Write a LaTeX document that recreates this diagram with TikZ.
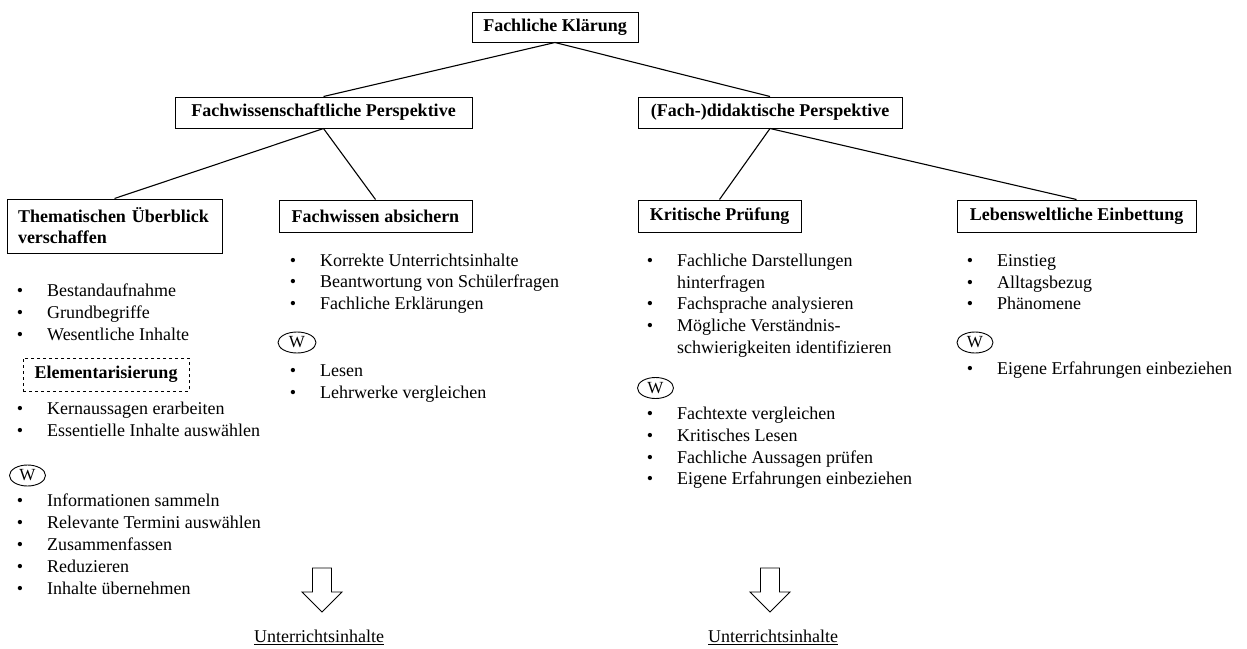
\documentclass[tikz,border=0pt]{standalone}
\usepackage{fontspec}
\setmainfont{Liberation Serif}
\usetikzlibrary{shapes.geometric}

% bulleted line: name, bullet x, line centre y, text
\newcommand\itm[4]{%
  \node[bul] (#1b) at (#2,#3+6) {•};
  \node[itx] (#1) at (#2+27,#3+6) {#4};}
% continuation line of a bulleted item
\newcommand\cnt[4]{%
  \node[itx] (#1) at (#2+27,#3+6) {#4};}
% hollow downward block arrow centred at x, from top y to tip y
\newcommand\blockdown[3]{%
  \draw[line width=0.9pt, line join=miter] (#1-9.5,#2) -- (#1+9.5,#2) -- (#1+9.5,#3-20)
    -- (#1+20,#3-20) -- (#1,#3) -- (#1-20,#3-20) -- (#1-9.5,#3-20) -- cycle;}

\begin{document}
\begin{tikzpicture}[x=1pt, y=-1pt,
  font=\fontsize{18}{22}\selectfont,
  box/.style={draw, line width=1pt, inner sep=0pt, align=center,
    font=\fontsize{18}{21}\selectfont\bfseries},
  wmark/.style={draw, ellipse, line width=0.9pt, inner sep=0pt,
    minimum width=36pt, minimum height=21pt, font=\fontsize{17}{20}\selectfont},
  bul/.style={anchor=base, inner sep=0pt},
  itx/.style={anchor=base west, inner sep=0pt},
  link/.style={line width=1.1pt}]
\useasboundingbox[fill=white] (0,0) rectangle (1247,648);

% hierarchy
\node[box, minimum width=166pt, minimum height=30pt] (root) at (555,27) {Fachliche Klärung};
\node[box, minimum width=297pt, minimum height=31pt] (fw) at (323.5,112.5) {Fachwissenschaftliche Perspektive};
\node[box, minimum width=264pt, minimum height=31pt] (fd) at (770,112.5) {(Fach-)didaktische Perspektive};
\node[box, minimum width=215pt, minimum height=54pt, text width=193pt, align=left] (th) at (114.5,226) {Thematischen Überblick\\verschaffen};
\node[box, minimum width=193pt, minimum height=32pt] (fa) at (375.5,216) {Fachwissen absichern};
\node[box, minimum width=163pt, minimum height=32pt] (kp) at (719.5,216) {Kritische Prüfung};
\node[box, minimum width=239pt, minimum height=32pt] (le) at (1076.5,216) {Lebensweltliche Einbettung};

\draw[link] (root.south) -- (fw.north);
\draw[link] (root.south) -- (fd.north);
\draw[link] (fw.south) -- (th.north);
\draw[link] (fw.south) -- (fa.north);
\draw[link] (fd.south) -- (kp.north);
\draw[link] (fd.south) -- (le.north);

% column 1: Thematischen Überblick verschaffen
\itm{a1}{20}{290}{Bestandaufnahme}
\itm{a2}{20}{312}{Grundbegriffe}
\itm{a3}{20}{334}{Wesentliche Inhalte}
\node[box, dashed, minimum width=166pt, minimum height=33pt] (el) at (106,374.5) {Elementarisierung};
\itm{a4}{20}{408}{Kernaussagen erarbeiten}
\itm{a5}{20}{430}{Essentielle Inhalte auswählen}
\node[wmark] (w1) at (27.5,475.5) {W};
\itm{a6}{20}{500}{Informationen sammeln}
\itm{a7}{20}{522}{Relevante Termini auswählen}
\itm{a8}{20}{544}{Zusammenfassen}
\itm{a9}{20}{566}{Reduzieren}
\itm{a10}{20}{588}{Inhalte übernehmen}

% column 2: Fachwissen absichern
\itm{b1}{293}{260}{Korrekte Unterrichtsinhalte}
\itm{b2}{293}{281.5}{Beantwortung von Schülerfragen}
\itm{b3}{293}{303}{Fachliche Erklärungen}
\node[wmark, minimum width=38pt] (w2) at (297,342.5) {W};
\itm{b4}{293}{370}{Lesen}
\itm{b5}{293}{392}{Lehrwerke vergleichen}

% column 3: Kritische Prüfung
\itm{c1}{650}{260}{Fachliche Darstellungen}
\cnt{c1x}{650}{282}{hinterfragen}
\itm{c2}{650}{303}{Fachsprache analysieren}
\itm{c3}{650}{325}{Mögliche Verständnis-}
\cnt{c3x}{650}{347}{schwierigkeiten identifizieren}
\node[wmark] (w3) at (655.5,388) {W};
\itm{c4}{650}{413}{Fachtexte vergleichen}
\itm{c5}{650}{435}{Kritisches Lesen}
\itm{c6}{650}{457}{Fachliche Aussagen prüfen}
\itm{c7}{650}{478}{Eigene Erfahrungen einbeziehen}

% column 4: Lebensweltliche Einbettung
\itm{d1}{970}{260}{Einstieg}
\itm{d2}{970}{282}{Alltagsbezug}
\itm{d3}{970}{303}{Phänomene}
\node[wmark] (w4) at (975,342.5) {W};
\itm{d4}{970}{368}{Eigene Erfahrungen einbeziehen}

% results
\blockdown{322}{568}{612}
\blockdown{770}{568}{612}
\node[inner sep=0pt] (u1) at (319,637) {\underline{Unterrichtsinhalte}};
\node[inner sep=0pt] (u2) at (773,637) {\underline{Unterrichtsinhalte}};
\end{tikzpicture}
\end{document}
